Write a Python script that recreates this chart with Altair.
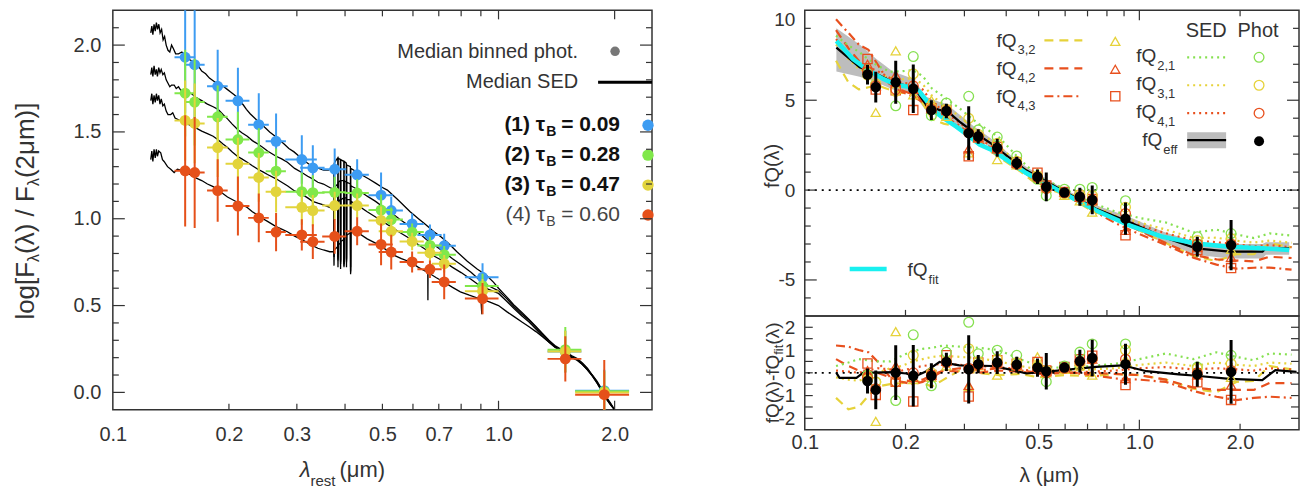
import altair as alt
import pandas as pd

FONT = "Liberation Sans"
TXT = "#333333"
FRAME = "#333333"
BLUE, GREEN, YELLOW, RED = "#3d9cf2", "#80e84a", "#e2d43c", "#e5501a"
GREEN_R, YELLOW_R, RED_R, CYAN = "#86e050", "#e6d23a", "#e8501e", "#19f0f0"

# ---------------- left panel data ----------------
band_lam = [0.154, 0.163, 0.187, 0.211, 0.239, 0.265, 0.309, 0.330, 0.376, 0.430,
            0.496, 0.527, 0.597, 0.664, 0.723, 0.909, 1.49, 1.88]
band_xerr = [0.0095, 0.010, 0.0115, 0.015, 0.0147, 0.016, 0.029, 0.024, 0.027, 0.031,
             0.036, 0.038, 0.043, 0.048, 0.052, 0.091, 0.15, 0.30]
blue_y = [1.930, 1.887, 1.763, 1.679, 1.542, 1.446, 1.341, 1.293, 1.285, 1.253,
          1.136, 1.047, 0.970, 0.907, 0.844, 0.663, 0.235, 0.010]
green_y = [1.723, 1.672, 1.587, 1.456, 1.381, 1.274, 1.156, 1.150, 1.152, 1.148,
           1.050, 0.995, 0.923, 0.846, 0.793, 0.613, 0.246, 0.006]
yellow_y = [1.566, 1.549, 1.410, 1.316, 1.238, 1.156, 1.066, 1.047, 1.076, 1.076,
            0.990, 0.928, 0.869, 0.804, 0.741, 0.583, 0.235, 0.000]
red_y = [1.276, 1.266, 1.162, 1.073, 1.005, 0.923, 0.907, 0.868, 0.898, 0.928,
         0.852, 0.808, 0.751, 0.709, 0.636, 0.540, 0.193, -0.013]
blue_err = [0.32, 0.32, 0.21, 0.19, 0.18, 0.16, 0.14, 0.13, 0.12, 0.09, 0.13, 0.08, 0.06, 0.06, 0.07, 0.08, 0.12, 0.12]
green_err = [0.25, 0.25, 0.18, 0.16, 0.14, 0.13, 0.11, 0.10, 0.09, 0.08, 0.09, 0.07, 0.05, 0.05, 0.05, 0.07, 0.13, 0.12]
yellow_err = [0.23, 0.23, 0.17, 0.15, 0.14, 0.12, 0.10, 0.09, 0.08, 0.07, 0.08, 0.07, 0.05, 0.05, 0.05, 0.07, 0.12, 0.12]
red_err = [0.32, 0.32, 0.18, 0.17, 0.14, 0.11, 0.09, 0.10, 0.10, 0.08, 0.12, 0.10, 0.06, 0.05, 0.10, 0.09, 0.13, 0.20]

sed1 = [(0.1254,2.07),(0.1262,2.11),(0.1270,2.06),(0.1279,2.12),(0.1288,2.08),(0.1297,2.13),(0.1306,2.09),
        (0.1316,2.12),(0.1326,2.07),(0.1338,2.09),(0.1350,2.03),(0.1362,2.05),(0.1375,2.00),(0.1390,1.97),
        (0.1405,1.96),(0.1420,2.00),(0.1435,1.98),(0.1455,1.95),(0.1480,1.95),(0.1510,1.96),(0.1540,1.94),
        (0.1570,1.92),(0.1600,1.91),(0.1630,1.89),(0.1660,1.885),(0.1700,1.85),(0.1740,1.835),(0.1780,1.81),
        (0.1820,1.795),(0.1860,1.78),(0.1900,1.775),(0.1940,1.76),(0.1980,1.745),(0.2020,1.73),(0.2060,1.715),
        (0.2100,1.70),(0.2140,1.675),(0.2180,1.655),(0.2220,1.63),(0.2270,1.605),(0.2320,1.585),(0.2370,1.565),
        (0.2420,1.55),(0.2480,1.525),(0.2550,1.50),(0.2620,1.48),(0.2700,1.455),(0.2780,1.43),(0.2860,1.405),
        (0.2950,1.385),(0.3040,1.36),(0.3130,1.335),(0.3220,1.315),(0.3320,1.30),(0.3420,1.29),(0.3520,1.28),
        (0.3620,1.28),(0.3700,1.29),(0.3740,1.30),(0.3745,0.80),(0.3750,1.32),(0.3800,1.34),(0.3830,1.35),
        (0.3835,0.78),(0.3840,1.35),(0.3890,1.34),(0.3895,0.76),(0.3900,1.34),(0.3970,1.33),(0.3975,0.75),
        (0.3980,1.33),(0.4030,1.32),(0.4035,0.77),(0.4040,1.31),(0.4130,1.30),(0.4135,0.72),(0.4140,1.29),
        (0.4250,1.275),(0.4400,1.255),(0.4600,1.23),(0.4800,1.205),(0.5000,1.18),(0.5150,1.165),(0.5300,1.14),
        (0.5450,1.115),(0.5570,1.095),(0.5750,1.065),(0.5900,1.04),(0.6050,1.02),(0.6200,1.00),(0.6400,0.975),
        (0.6560,0.955),(0.6800,0.925),(0.7100,0.895),(0.7400,0.86),(0.7800,0.81),(0.8300,0.755),(0.8800,0.71),
        (0.9300,0.675),(0.9700,0.635),(1.0000,0.60),(1.0500,0.55),(1.1000,0.50),(1.1500,0.46),(1.2000,0.42),
        (1.2500,0.38),(1.3000,0.34),(1.3500,0.30),(1.4000,0.27),(1.4500,0.25),(1.5000,0.23),(1.5500,0.21),
        (1.6000,0.195),(1.6500,0.17),(1.7000,0.14),(1.7500,0.10),(1.8000,0.065),(1.8500,0.02),(1.9000,-0.025),
        (1.9500,-0.06),(2.0000,-0.10)]
sed2 = [(0.1254,1.83),(0.1262,1.87),(0.1270,1.82),(0.1279,1.88),(0.1288,1.83),(0.1297,1.86),(0.1305,1.82),
        (0.1315,1.87),(0.1325,1.84),(0.1335,1.86),(0.1348,1.83),(0.1360,1.84),(0.1375,1.80),(0.1390,1.78),
        (0.1405,1.76),(0.1420,1.77),(0.1442,1.77),(0.1460,1.75),(0.1480,1.76),(0.1500,1.74),(0.1545,1.735),
        (0.1600,1.72),(0.1641,1.70),(0.1700,1.68),(0.1759,1.66),(0.1820,1.645),(0.1874,1.63),(0.1930,1.60),
        (0.1983,1.575),(0.2040,1.545),(0.2103,1.515),(0.2160,1.495),(0.2231,1.475),(0.2300,1.45),(0.2377,1.43),
        (0.2450,1.41),(0.2518,1.39),(0.2650,1.36),(0.2740,1.345),(0.2835,1.325),(0.2960,1.29),(0.3097,1.265),
        (0.3200,1.245),(0.3296,1.23),(0.3400,1.21),(0.3516,1.20),(0.3650,1.18),(0.3740,1.17),(0.3745,0.80),
        (0.3750,1.18),(0.3830,1.20),(0.3835,0.77),(0.3840,1.21),(0.3890,1.22),(0.3895,0.75),(0.3900,1.22),
        (0.3970,1.22),(0.3975,0.74),(0.3980,1.22),(0.4030,1.21),(0.4035,0.76),(0.4040,1.21),(0.4130,1.20),
        (0.4135,0.70),(0.4140,1.19),(0.4300,1.17),(0.4565,1.13),(0.4800,1.10),(0.5000,1.07),(0.5300,1.03),
        (0.5600,0.99),(0.5900,0.955),(0.6200,0.92),(0.6500,0.88),(0.6800,0.85),(0.7200,0.81),(0.7600,0.77),
        (0.8000,0.735),(0.8500,0.69),(0.9000,0.64),(0.9500,0.61),(1.0000,0.585),(1.0500,0.54),(1.1000,0.49),
        (1.1500,0.45),(1.2000,0.415),(1.2500,0.375),(1.3000,0.335),(1.3500,0.30),(1.4000,0.265),(1.4500,0.245),
        (1.5000,0.225),(1.5500,0.205),(1.6000,0.19),(1.6500,0.165),(1.7000,0.135),(1.7500,0.10),(1.8000,0.06),
        (1.8500,0.015),(1.9000,-0.03),(1.9500,-0.065),(2.0000,-0.10)]
sed3 = [(0.1254,1.68),(0.1262,1.72),(0.1270,1.66),(0.1279,1.71),(0.1288,1.67),(0.1297,1.72),(0.1305,1.68),
        (0.1315,1.71),(0.1325,1.66),(0.1335,1.69),(0.1348,1.65),(0.1360,1.66),(0.1375,1.62),(0.1390,1.60),
        (0.1413,1.60),(0.1430,1.61),(0.1450,1.58),(0.1480,1.57),(0.1510,1.56),(0.1545,1.55),(0.1600,1.535),
        (0.1650,1.52),(0.1700,1.505),(0.1759,1.49),(0.1820,1.475),(0.1874,1.455),(0.1930,1.43),(0.1983,1.41),
        (0.2040,1.385),(0.2103,1.36),(0.2160,1.345),(0.2231,1.325),(0.2300,1.305),(0.2377,1.285),(0.2450,1.27),
        (0.2518,1.255),(0.2650,1.23),(0.2740,1.21),(0.2835,1.19),(0.2960,1.16),(0.3097,1.14),(0.3200,1.12),
        (0.3296,1.10),(0.3400,1.09),(0.3516,1.08),(0.3650,1.065),(0.3740,1.055),(0.3745,0.78),(0.3750,1.07),
        (0.3830,1.09),(0.3835,0.76),(0.3840,1.10),(0.3890,1.11),(0.3895,0.74),(0.3900,1.11),(0.3970,1.12),
        (0.3975,0.73),(0.3980,1.12),(0.4030,1.12),(0.4035,0.75),(0.4040,1.11),(0.4130,1.11),(0.4135,0.69),
        (0.4140,1.10),(0.4300,1.08),(0.4565,1.04),(0.4800,1.01),(0.5000,0.985),(0.5300,0.95),(0.5600,0.915),
        (0.5900,0.885),(0.6200,0.85),(0.6500,0.82),(0.6800,0.785),(0.7200,0.755),(0.7600,0.72),(0.8000,0.69),
        (0.8500,0.65),(0.9000,0.61),(0.9500,0.59),(1.0000,0.57),(1.0500,0.525),(1.1000,0.48),(1.1500,0.44),
        (1.2000,0.405),(1.2500,0.365),(1.3000,0.325),(1.3500,0.29),(1.4000,0.26),(1.4500,0.24),(1.5000,0.22),
        (1.5500,0.20),(1.6000,0.185),(1.6500,0.16),(1.7000,0.13),(1.7500,0.095),(1.8000,0.055),(1.8500,0.01),
        (1.9000,-0.035),(1.9500,-0.07),(2.0000,-0.10)]
sed4 = [(0.1254,1.34),(0.1262,1.39),(0.1270,1.33),(0.1279,1.40),(0.1288,1.35),(0.1297,1.40),(0.1305,1.36),
        (0.1315,1.39),(0.1331,1.38),(0.1345,1.34),(0.1358,1.33),(0.1386,1.30),(0.1413,1.285),(0.1442,1.266),
        (0.1470,1.285),(0.1500,1.28),(0.1545,1.27),(0.1600,1.25),(0.1641,1.235),(0.1700,1.22),(0.1759,1.20),
        (0.1820,1.185),(0.1874,1.165),(0.1983,1.125),(0.2103,1.095),(0.2231,1.065),(0.2300,1.04),(0.2377,1.02),
        (0.2450,1.00),(0.2518,0.985),(0.2650,0.955),(0.2740,0.94),(0.2835,0.925),(0.2960,0.90),(0.3097,0.88),
        (0.3200,0.86),(0.3296,0.845),(0.3400,0.83),(0.3516,0.82),(0.3650,0.81),(0.3740,0.81),(0.3745,0.73),
        (0.3750,0.82),(0.3830,0.84),(0.3835,0.72),(0.3840,0.85),(0.3890,0.86),(0.3895,0.71),(0.3900,0.87),
        (0.3970,0.88),(0.3975,0.72),(0.3980,0.89),(0.4030,0.90),(0.4035,0.72),(0.4040,0.905),(0.4130,0.92),
        (0.4135,0.68),(0.4140,0.92),(0.4300,0.923),(0.4565,0.884),(0.4800,0.86),(0.4948,0.846),(0.5150,0.815),
        (0.5367,0.789),(0.5600,0.77),(0.5908,0.751),(0.6200,0.72),(0.6500,0.695),(0.6555,0.69),(0.6560,0.53),
        (0.6565,0.69),(0.6900,0.66),(0.7214,0.636),(0.7600,0.605),(0.7962,0.579),(0.8400,0.56),(0.8790,0.545),
        (0.9000,0.54),(0.9050,0.45),(0.9100,0.535),(0.9500,0.52),(1.0000,0.50),(1.0500,0.465),(1.1000,0.435),
        (1.1500,0.405),(1.2000,0.378),(1.2500,0.35),(1.3000,0.32),(1.3500,0.29),(1.4000,0.262),(1.4500,0.24),
        (1.5000,0.215),(1.5500,0.20),(1.6000,0.185),(1.6500,0.16),(1.7000,0.13),(1.7500,0.095),(1.8000,0.055),
        (1.8500,0.01),(1.9000,-0.035),(1.9500,-0.07),(2.0000,-0.10)]

# ---------------- right panel data ----------------
fit_lam = [0.1243, 0.1394, 0.1528, 0.1713, 0.1878, 0.2000, 0.2105, 0.2204, 0.2308, 0.2415, 0.2587, 0.2837,
           0.3108, 0.3330, 0.3649, 0.4589, 0.5902, 0.7426, 0.9335, 1.1737, 1.4767, 1.857, 2.334, 2.804]
fit_y = [8.3, 7.29, 6.74, 6.19, 5.86, 5.78, 5.73, 5.46, 5.0, 4.45, 4.03, 3.53, 2.98, 2.53, 2.2, 0.95,
         -0.15, -1.14, -1.96, -2.60, -2.97, -3.15, -3.24, -3.33]
eff_lam = [0.1243, 0.1459, 0.1637, 0.1834, 0.2105, 0.2204, 0.2308, 0.2529, 0.2647, 0.2899, 0.3178, 0.3649,
           0.4091, 0.4589, 0.5902, 0.7426, 0.9335, 1.1737, 1.4767, 1.857, 2.334, 2.389, 2.804]
eff_y = [7.93, 6.83, 6.47, 6.0, 5.73, 5.27, 4.73, 4.45, 4.45, 3.81, 3.26, 2.53, 1.80, 1.10, -0.04, -1.04,
         -1.77, -2.60, -3.24, -3.42, -3.42, -3.24, -3.24]
eff_lo = [6.6, 6.3, 6.0, 5.6, 5.4, 4.9, 4.4, 4.1, 4.0, 3.5, 3.0, 2.3, 1.6, 0.95, -0.2, -1.25, -2.0, -2.9,
          -3.6, -3.8, -3.8, -3.6, -3.6]
eff_hi = [9.0, 8.1, 7.3, 6.6, 6.2, 5.7, 5.2, 4.9, 4.8, 4.2, 3.6, 2.8, 2.0, 1.3, 0.1, -0.85, -1.5, -2.3,
          -2.9, -3.0, -3.0, -2.9, -2.9]
effres_lam = [0.1243, 0.127, 0.1427, 0.1493, 0.1834, 0.2011, 0.2131, 0.2308, 0.2529, 0.2899, 0.3649, 0.4188,
              0.4589, 0.59, 0.7426, 0.89, 1.05, 1.31, 1.48, 1.86, 2.33, 2.55, 2.95]
effres_y = [0.0, -0.22, -0.22, 0.0, 0.03, -0.03, -0.17, 0.07, 0.48, 0.33, 0.30, 0.12, -0.03, 0.12, 0.26,
            0.33, 0.07, -0.07, -0.13, -0.27, -0.32, 0.12, 0.04]

grid_lam = [0.124, 0.135, 0.145, 0.155, 0.165, 0.18, 0.195, 0.21, 0.225, 0.24, 0.26, 0.29, 0.33, 0.38,
            0.44, 0.50, 0.60, 0.72, 0.85, 1.0, 1.2, 1.45, 1.7, 1.95, 2.2, 2.45, 2.85]
q21_top = [8.6, 8.05, 7.7, 7.27, 6.92, 6.58, 6.61, 6.68, 6.35, 5.65, 5.2, 4.55, 3.7, 2.95, 1.7, 0.75, 0.05,
           -0.7, -1.2, -1.55, -1.8, -2.36, -2.2, -2.47, -2.67, -2.41, -2.53]
q21_res = [0.3, 0.45, 0.6, 0.55, 0.5, 0.5, 0.75, 0.95, 1.05, 1.1, 1.2, 1.15, 1.1, 1.0, 0.6, 0.3, 0.2, 0.3,
           0.4, 0.6, 0.85, 0.6, 0.9, 0.7, 0.55, 0.85, 0.8]
q31_top = [8.1, 7.3, 6.75, 6.52, 6.42, 6.28, 6.16, 6.23, 5.9, 5.25, 4.75, 4.1, 3.25, 2.45, 1.4, 0.6, -0.05,
           -0.85, -1.4, -1.8, -2.2, -2.66, -2.65, -2.82, -2.92, -2.81, -2.93]
q31_res = [-0.2, -0.3, -0.35, -0.2, 0.0, 0.2, 0.3, 0.5, 0.6, 0.7, 0.75, 0.7, 0.65, 0.5, 0.3, 0.15, 0.1,
           0.15, 0.2, 0.35, 0.45, 0.3, 0.45, 0.35, 0.3, 0.45, 0.4]
q41_top = [8.4, 7.65, 7.1, 6.82, 6.62, 6.23, 5.96, 5.93, 5.6, 4.9, 4.4, 3.75, 2.9, 2.2, 1.25, 0.5, -0.15,
           -0.95, -1.5, -1.95, -2.4, -2.81, -2.9, -3.02, -3.12, -3.06, -3.18]
q41_res = [0.1, 0.05, 0.0, 0.1, 0.2, 0.15, 0.1, 0.2, 0.3, 0.35, 0.4, 0.35, 0.3, 0.25, 0.15, 0.05, 0.0,
           0.05, 0.1, 0.2, 0.25, 0.15, 0.2, 0.15, 0.1, 0.2, 0.15]
q32_top = [7.2, 6.0, 5.6, 5.72, 5.82, 5.58, 5.41, 5.43, 4.85, 3.95, 3.7, 3.5, 2.6, 1.85, 1.05, 0.25, -0.25,
           -1.15, -1.65, -2.25, -2.95, -3.66, -3.95, -3.57, -3.57, -2.96, -3.18]
q32_res = [-1.1, -1.6, -1.5, -1.0, -0.6, -0.5, -0.45, -0.3, -0.45, -0.6, -0.3, 0.1, 0.0, -0.1, -0.05, -0.2,
           -0.1, -0.15, -0.05, -0.1, -0.3, -0.7, -0.85, -0.4, -0.35, 0.3, 0.15]
q42_top = [8.9, 7.9, 7.2, 6.82, 6.42, 5.88, 5.56, 5.33, 5.0, 4.45, 4.1, 3.45, 2.6, 2.05, 1.15, 0.4, -0.15,
           -1.0, -1.65, -2.25, -2.95, -3.61, -3.85, -3.92, -3.97, -3.71, -3.78]
q42_res = [0.6, 0.3, 0.1, 0.1, 0.0, -0.2, -0.3, -0.4, -0.3, -0.1, 0.1, 0.05, 0.0, 0.1, 0.05, -0.05, 0.0,
           0.0, -0.05, -0.1, -0.3, -0.65, -0.75, -0.75, -0.75, -0.45, -0.45]
q43_top = [9.5, 8.75, 8.1, 7.8, 7.0, 5.88, 5.46, 5.23, 4.9, 4.35, 4.1, 3.6, 2.7, 2.15, 1.2, 0.45, -0.1,
           -1.1, -1.85, -2.45, -3.05, -3.76, -4.15, -4.37, -4.32, -4.31, -4.43]
q43_res = [1.2, 1.15, 1.0, 0.9, 0.5, -0.2, -0.4, -0.5, -0.4, -0.2, 0.1, 0.2, 0.1, 0.2, 0.1, 0.0, 0.05,
           -0.1, -0.25, -0.3, -0.4, -0.8, -1.05, -1.2, -1.1, -1.05, -1.1]

effp_top = [6.43, 5.73, 6.0, 5.64, 4.45, 4.40, 3.17, 2.98, 2.35, 1.50, 0.74, 0.18, -0.13, -0.37, -0.55, -1.59, -3.15, -3.06]
effp_res = [-0.36, -0.75, 0.01, -0.13, -0.13, 0.48, 0.15, 0.38, 0.45, 0.36, 0.23, 0.07, 0.23, 0.51, 0.65, 0.38, -0.06, 0.04]
effp_err = [0.55, 0.85, 1.2, 1.35, 0.55, 0.4, 1.5, 0.4, 0.5, 0.35, 0.4, 0.8, 0.2, 0.5, 0.8, 0.9, 0.55, 1.4]
p21_top = [6.5, 5.9, 4.69, 7.43, 4.14, 4.85, 5.22, 3.35, 2.95, 1.9, 0.6, -0.31, 0.05, 0.05, 0.15, -0.59, -2.6, -2.42]
p21_res = [-0.1, -0.4, -1.22, 1.67, -0.57, 0.9, 2.22, 0.84, 0.99, 0.77, 0.25, -0.39, 0.3, 0.91, 1.27, 1.27, 0.25, 0.77]
p31_top = [6.4, 5.9, 5.5, 6.47, 4.6, 4.5, 3.99, 3.1, 2.6, 1.6, 0.8, 0.1, -0.2, -0.25, -0.3, -0.95, -2.8, -2.7]
p31_res = [-0.3, -0.4, -0.4, 0.77, 0.0, 0.5, 1.06, 0.5, 0.6, 0.45, 0.3, 0.1, 0.2, 0.4, 0.6, 1.0, 0.2, 0.4]
p41_top = [6.6, 5.8, 5.6, 5.8, 4.5, 4.4, 3.2, 2.95, 2.3, 1.45, 0.7, 0.1, -0.15, -0.4, -0.55, -1.3, -3.0, -3.0]
p41_res = [-0.2, -0.7, -0.4, 0.0, -0.1, 0.45, 0.2, 0.35, 0.4, 0.3, 0.2, 0.0, 0.2, 0.5, 0.6, 0.6, 0.0, 0.1]
p32_top = [6.8, 4.32, 7.75, 5.3, 5.0, 4.1, 2.07, 2.9, 1.7, 1.4, 0.95, 0.1, -0.3, -0.6, -1.23, -1.4, -3.0, -3.3]
p32_res = [0.0, -2.13, 1.81, -0.3, -0.2, 0.3, -0.61, 0.3, -0.1, 0.3, 0.7, 0.0, 0.15, 0.3, -0.1, 0.6, 0.1, -0.2]
p42_top = [7.0, 5.8, 6.4, 5.6, 4.5, 4.5, 2.3, 2.9, 2.3, 1.5, 0.8, 0.2, -0.1, -0.4, -0.6, -2.24, -3.2, -3.74]
p42_res = [0.1, -0.6, 0.3, -0.2, -0.1, 0.5, -0.55, 0.35, 0.4, 0.35, 0.3, 0.05, 0.25, 0.5, 0.6, -0.25, -0.1, -0.54]
p43_top = [7.29, 5.6, 5.55, 4.45, 4.55, 4.45, 1.88, 2.95, 2.4, 1.55, 0.97, 0.25, -0.1, -0.3, -0.5, -2.51, -3.33, -4.34]
p43_res = [0.41, -0.97, -0.39, -1.26, -0.1, 0.77, -1.04, 0.45, 0.55, 0.4, 0.48, 0.1, 0.26, 0.6, 0.75, -0.54, -0.42, -1.19]

# ---------------- helpers ----------------
DUMMY = pd.DataFrame({"d": [0]})
WL, HL = 540, 400
WR, HRT, HRB = 495, 306, 114
MINUS = "replace(datum.label, '\u2212', '-')"


def axis_x(values, pad, size):
    return alt.Axis(values=values, format=".1f", labelFontSize=size, labelFont=FONT, labelColor=TXT,
                    labelPadding=pad, ticks=False, domain=False, grid=False, title=None,
                    labelFlush=False, labelOverlap=False)


def axis_y(values, fmt, pad, size, flush=False):
    return alt.Axis(values=values, format=fmt, labelFontSize=size, labelFont=FONT, labelColor=TXT,
                    labelPadding=pad, ticks=False, domain=False, grid=False, title=None,
                    labelFlush=flush, labelOverlap=False, labelExpr=MINUS)


PL = (alt.Scale(type="log", domain=[0.1, 2.5], nice=False),
      alt.Scale(domain=[-0.1, 2.2], nice=False, zero=False),
      axis_x([0.1, 0.2, 0.3, 0.5, 0.7, 1.0, 2.0], 15, 20),
      axis_y([0.0, 0.5, 1.0, 1.5, 2.0], ".1f", 12, 20))
PT = (alt.Scale(type="log", domain=[0.1, 3.0], nice=False),
      alt.Scale(domain=[-7, 10], nice=False, zero=False),
      None,
      axis_y([-5, 0, 5, 10], "d", 10, 19, flush=True))
PB = (alt.Scale(type="log", domain=[0.1, 3.0], nice=False),
      alt.Scale(domain=[-2.5, 2.5], nice=False, zero=False),
      axis_x([0.1, 0.2, 0.5, 1.0, 2.0], 3, 20),
      axis_y([-2, -1, 0, 1, 2], "d", 10, 19))


def X(field, p):
    return alt.X(field, scale=p[0], axis=p[2])


def Y(field, p):
    return alt.Y(field, scale=p[1], axis=p[3])


def txt(s, x, y, size, align="left", baseline="middle", angle=0, color=TXT, weight="normal", style="normal"):
    kw = dict(text=s, align=align, baseline=baseline, fontSize=size, font=FONT, color=color,
              fontWeight=weight, fontStyle=style)
    if angle:
        kw["angle"] = angle
    return alt.Chart(DUMMY).mark_text(**kw).encode(x=alt.value(x), y=alt.value(y))


def hseg(x1, x2, y, color, width, dash=None):
    kw = dict(color=color, strokeWidth=width)
    if dash:
        kw["strokeDash"] = dash
    return alt.Chart(DUMMY).mark_rule(**kw).encode(x=alt.value(x1), x2=alt.value(x2), y=alt.value(y))


def dot(x, y, color, size, shape="circle", filled=True, sw=1.3):
    return alt.Chart(DUMMY).mark_point(shape=shape, filled=filled, color=color, size=size,
                                       strokeWidth=sw, opacity=1).encode(x=alt.value(x), y=alt.value(y))


def ticks_x(vals, p, H, length, sides):
    df = pd.DataFrame({"t": vals})
    out = []
    for s in sides:
        y1, y2 = (H, H - length) if s == "bottom" else (0, length)
        out.append(alt.Chart(df).mark_rule(color=FRAME, strokeWidth=1.2).encode(
            x=X("t:Q", p), y=alt.value(y1), y2=alt.value(y2)))
    return out


def ticks_y(vals, p, W, length, sides):
    df = pd.DataFrame({"t": vals})
    out = []
    for s in sides:
        x1, x2 = (0, length) if s == "left" else (W, W - length)
        out.append(alt.Chart(df).mark_rule(color=FRAME, strokeWidth=1.2).encode(
            y=Y("t:Q", p), x=alt.value(x1), x2=alt.value(x2)))
    return out


def curve(lams, vals, p, color, width, dash=None):
    df = pd.DataFrame({"lam": lams, "v": vals, "i": list(range(len(lams)))})
    kw = dict(color=color, strokeWidth=width, clip=True)
    if dash:
        kw["strokeDash"] = dash
    return alt.Chart(df).mark_line(**kw).encode(x=X("lam:Q", p), y=Y("v:Q", p), order="i:Q")


def markers(lams, vals, p, color, shape, filled=False, size=95):
    df = pd.DataFrame({"lam": lams, "v": vals})
    return alt.Chart(df).mark_point(shape=shape, filled=filled, color=color, size=size,
                                    strokeWidth=1.3, opacity=1, clip=True).encode(
        x=X("lam:Q", p), y=Y("v:Q", p))


def errbars(lams, vals, errs, p, color, width):
    df = pd.DataFrame({"lam": lams, "lo": [v - e for v, e in zip(vals, errs)],
                       "hi": [v + e for v, e in zip(vals, errs)]})
    return alt.Chart(df).mark_rule(color=color, strokeWidth=width, clip=True).encode(
        x=X("lam:Q", p), y=Y("lo:Q", p), y2="hi:Q")


def zero_line(p):
    return alt.Chart(pd.DataFrame({"z": [0]})).mark_rule(color="black", strokeWidth=1.8,
                                                          strokeDash=[2, 5]).encode(y=Y("z:Q", p))


# ---------------- left panel ----------------
left_layers = []
sed_rows = []
for cid, pts in enumerate([sed1, sed2, sed3, sed4]):
    for i, (l, v) in enumerate(pts):
        sed_rows.append({"curve": cid, "i": i, "lam": l, "v": v})
left_layers.append(alt.Chart(pd.DataFrame(sed_rows)).mark_line(color="black", strokeWidth=1.3, clip=True).encode(
    x=X("lam:Q", PL), y=Y("v:Q", PL), detail="curve:N", order="i:Q"))

for ys, errs, col in [(blue_y, blue_err, BLUE), (green_y, green_err, GREEN),
                      (yellow_y, yellow_err, YELLOW), (red_y, red_err, RED)]:
    df = pd.DataFrame({"lam": band_lam, "v": ys,
                       "lo": [v - e for v, e in zip(ys, errs)], "hi": [v + e for v, e in zip(ys, errs)],
                       "xl": [l - e for l, e in zip(band_lam, band_xerr)],
                       "xh": [l + e for l, e in zip(band_lam, band_xerr)]})
    base = alt.Chart(df)
    left_layers.append(base.mark_rule(color=col, strokeWidth=2, clip=True).encode(
        x=X("lam:Q", PL), y=Y("lo:Q", PL), y2="hi:Q"))
    left_layers.append(base.mark_rule(color=col, strokeWidth=2, clip=True).encode(
        x=X("xl:Q", PL), x2="xh:Q", y=Y("v:Q", PL)))
    left_layers.append(base.mark_circle(color=col, size=120, opacity=1, clip=True).encode(
        x=X("lam:Q", PL), y=Y("v:Q", PL)))

left_layers += [
    txt("Median binned phot.", 466, 42, 20, align="right"),
    dot(503, 41, "#777777", 90),
    txt("Median SED", 466, 72, 20, align="right"),
    hseg(486, 540, 72, "black", 3),
]
tau_labels = [("(1) τ", "= 0.09", BLUE, "bold", "#111111"), ("(2) τ", "= 0.28", GREEN, "bold", "#111111"),
              ("(3) τ", "= 0.47", YELLOW, "bold", "#111111"), ("(4) τ", "= 0.60", RED, "normal", "#444444")]
for k, (a, b, col, wt, tc) in enumerate(tau_labels):
    yy = 115 + 30 * k
    left_layers += [txt(a, 433, yy, 21, align="right", weight=wt, color=tc),
                    txt("B", 434, yy + 7, 14, weight=wt, color=tc),
                    txt(b, 449, yy, 21, weight=wt, color=tc),
                    dot(536, yy, col, 130)]
left_layers += [
    txt("log[F", -87, 309.7, 26, angle=270),
    txt("λ", -79, 251.9, 16, angle=270),
    txt("(λ) / F", -87, 243.9, 26, angle=270),
    txt("λ", -79, 176.0, 16, angle=270),
    txt("(2μm)]", -87, 168.0, 26, angle=270),
    txt("λ", 198, HL + 60, 22, align="right", style="italic"),
    txt("rest", 198, HL + 71, 15),
    txt("(μm)", 227, HL + 60, 22),
]
left_layers += ticks_x([0.2, 0.3, 0.4, 0.5, 0.6, 0.7, 0.8, 0.9], PL, HL, 6, ["top", "bottom"])
left_layers += ticks_x([1.0, 2.0], PL, HL, 9, ["top", "bottom"])
left_layers += ticks_y([0.1, 0.2, 0.3, 0.4, 0.6, 0.7, 0.8, 0.9, 1.1, 1.2, 1.3, 1.4, 1.6, 1.7, 1.8, 1.9, 2.1],
                       PL, WL, 6, ["left", "right"])
left_layers += ticks_y([0.0, 0.5, 1.0, 1.5, 2.0], PL, WL, 12, ["left", "right"])
left = alt.layer(*left_layers).properties(width=WL, height=HL)

# ---------------- right top ----------------
DOT = [2, 4]
rt = []
rt.append(alt.Chart(pd.DataFrame({"lam": eff_lam, "lo": eff_lo, "hi": eff_hi})).mark_area(
    color="#bdbdbd", opacity=1, clip=True).encode(x=X("lam:Q", PT), y=Y("lo:Q", PT), y2="hi:Q"))
rt += [
    curve(grid_lam, q32_top, PT, YELLOW_R, 2.2, [9, 6]),
    curve(grid_lam, q42_top, PT, RED_R, 2.2, [9, 6]),
    curve(grid_lam, q43_top, PT, RED_R, 2.2, [9, 4, 2, 4]),
    curve(grid_lam, q21_top, PT, GREEN_R, 2.2, DOT),
    curve(grid_lam, q31_top, PT, YELLOW_R, 2.2, DOT),
    curve(grid_lam, q41_top, PT, RED_R, 2.2, DOT),
    curve(eff_lam, eff_y, PT, "black", 2.2),
    curve(fit_lam, fit_y, PT, CYAN, 4.5),
    zero_line(PT),
    markers(band_lam, p32_top, PT, YELLOW_R, "triangle-up", size=85),
    markers(band_lam, p42_top, PT, RED_R, "triangle-up", size=85),
    markers(band_lam, p43_top, PT, RED_R, "square", size=85),
    markers(band_lam, p21_top, PT, GREEN_R, "circle"),
    markers(band_lam, p31_top, PT, YELLOW_R, "circle"),
    markers(band_lam, p41_top, PT, RED_R, "circle"),
    errbars(band_lam, effp_top, effp_err, PT, "black", 3),
    markers(band_lam, effp_top, PT, "black", "circle", filled=True, size=110),
]
rt += [
    txt("fQ", 212, 31, 19, align="right"), txt("3,2", 213, 40, 13),
    txt("fQ", 212, 59, 19, align="right"), txt("4,2", 213, 68, 13),
    txt("fQ", 212, 87, 19, align="right"), txt("4,3", 213, 96, 13),
    hseg(240, 278, 30, YELLOW_R, 2.2, [9, 6]),
    hseg(240, 278, 58, RED_R, 2.2, [9, 6]),
    hseg(240, 278, 86, RED_R, 2.2, [9, 4, 2, 4]),
    dot(311, 31, YELLOW_R, 85, "triangle-up", False),
    dot(311, 59, RED_R, 85, "triangle-up", False),
    dot(311, 86, RED_R, 85, "square", False),
    txt("SED", 402, 21, 20, align="center"),
    txt("Phot", 454, 21, 20, align="center"),
    txt("fQ", 352, 46, 19, align="right"), txt("2,1", 353, 56, 13),
    txt("fQ", 352, 74, 19, align="right"), txt("3,1", 353, 84, 13),
    txt("fQ", 352, 102, 19, align="right"), txt("4,1", 353, 112, 13),
    txt("fQ", 358, 130, 19, align="right"), txt("eff", 359, 140, 13),
    hseg(383, 422, 47, GREEN_R, 2.2, DOT),
    hseg(383, 422, 75, YELLOW_R, 2.2, DOT),
    hseg(383, 422, 103, RED_R, 2.2, DOT),
    alt.Chart(DUMMY).mark_rect(color="#bdbdbd").encode(x=alt.value(383), x2=alt.value(422),
                                                      y=alt.value(122), y2=alt.value(138)),
    hseg(383, 422, 130, "black", 2.2),
    dot(455, 47, GREEN_R, 95, "circle", False),
    dot(455, 75, YELLOW_R, 95, "circle", False),
    dot(455, 103, RED_R, 95, "circle", False),
    dot(455, 131, "black", 100, "circle", True),
    hseg(45, 82, 259, CYAN, 4.5),
    txt("fQ", 123, 260, 19, align="right"), txt("fit", 124, 270, 13),
    txt("fQ(λ)", -32, 178, 20, align="left", angle=270),
]
rt += ticks_x([0.2, 0.3, 0.4, 0.5, 0.6, 0.7, 0.8, 0.9, 2.0], PT, HRT, 6, ["top", "bottom"])
rt += ticks_x([1.0], PT, HRT, 10, ["top", "bottom"])
rt += ticks_y([-6, -4, -3, -2, -1, 1, 2, 3, 4, 6, 7, 8, 9], PT, WR, 6, ["left", "right"])
rt += ticks_y([-5, 0, 5], PT, WR, 12, ["left", "right"])
rtop = alt.layer(*rt).properties(width=WR, height=HRT)

# ---------------- right bottom ----------------
rb = [
    curve(grid_lam, q32_res, PB, YELLOW_R, 2.2, [9, 6]),
    curve(grid_lam, q42_res, PB, RED_R, 2.2, [9, 6]),
    curve(grid_lam, q43_res, PB, RED_R, 2.2, [9, 4, 2, 4]),
    curve(grid_lam, q21_res, PB, GREEN_R, 2.2, DOT),
    curve(grid_lam, q31_res, PB, YELLOW_R, 2.2, DOT),
    curve(grid_lam, q41_res, PB, RED_R, 2.2, DOT),
    zero_line(PB),
    curve(effres_lam, effres_y, PB, "black", 2.2),
    markers(band_lam, p32_res, PB, YELLOW_R, "triangle-up", size=85),
    markers(band_lam, p42_res, PB, RED_R, "triangle-up", size=85),
    markers(band_lam, p43_res, PB, RED_R, "square", size=85),
    markers(band_lam, p21_res, PB, GREEN_R, "circle"),
    markers(band_lam, p31_res, PB, YELLOW_R, "circle"),
    markers(band_lam, p41_res, PB, RED_R, "circle"),
    errbars(band_lam, effp_res, effp_err, PB, "black", 3),
    markers(band_lam, effp_res, PB, "black", "circle", filled=True, size=110),
    txt("fQ(λ)-fQ", -32, 107.5, 19, angle=270),
    txt("fit", -26, 38.9, 13, angle=270),
    txt("(λ)", -32, 28.8, 19, angle=270),
    txt("λ (μm)", 245, HRB + 46, 21, align="center"),
]
rb += ticks_x([0.2, 0.3, 0.4, 0.5, 0.6, 0.7, 0.8, 0.9, 2.0], PB, HRB, 6, ["bottom"])
rb += ticks_x([1.0], PB, HRB, 10, ["bottom"])
rb += ticks_y([-2.0, -1.5, -1.0, -0.5, 0.0, 0.5, 1.0, 1.5, 2.0], PB, WR, 8, ["left", "right"])
rbot = alt.layer(*rb).properties(width=WR, height=HRB)

right = alt.vconcat(rtop, rbot, spacing=0, bounds="flush")
chart = alt.hconcat(left, right, spacing=153, bounds="flush").properties(
    padding={"left": 4, "top": 0, "right": 0, "bottom": 0}
).configure_view(stroke=FRAME, strokeWidth=1.5)

chart.save("out.html", embed_options={"renderer": "svg", "actions": False})
